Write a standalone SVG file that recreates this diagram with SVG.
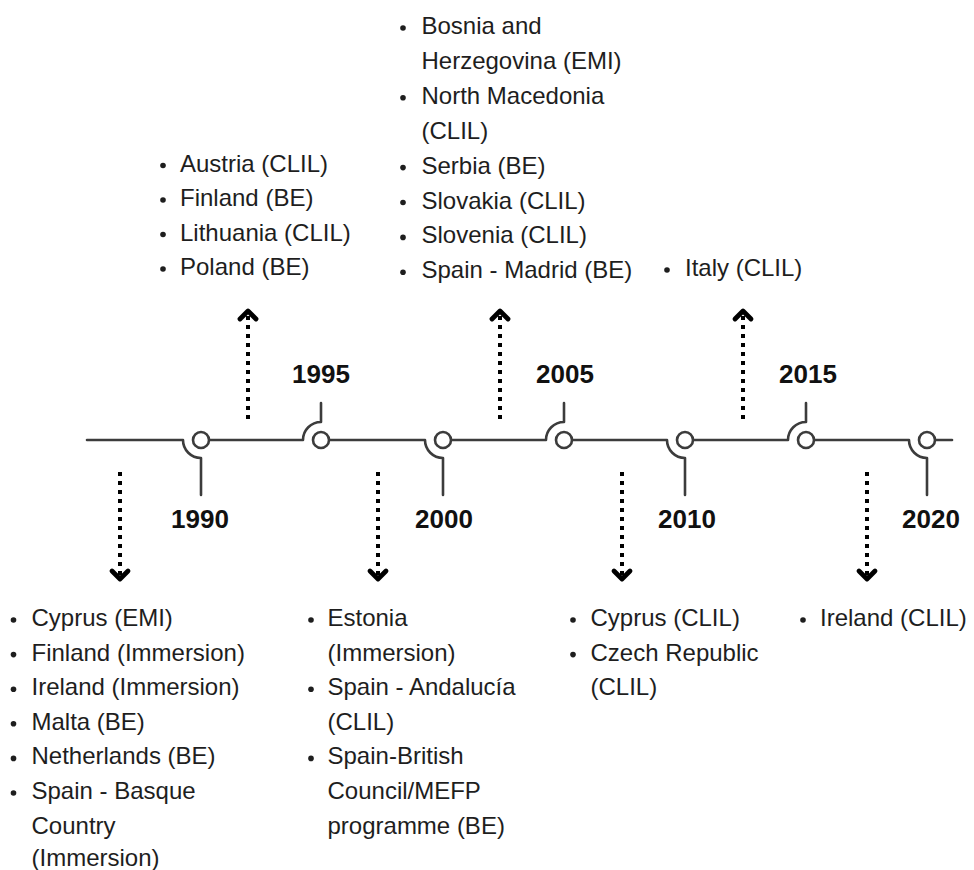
<svg xmlns="http://www.w3.org/2000/svg" width="974" height="870" viewBox="0 0 974 870">
<defs>
<style>
.tl{fill:none;stroke:#3c3c3c;stroke-width:2.6;stroke-linecap:round;stroke-linejoin:round}
.node{fill:#fff;stroke:#3c3c3c;stroke-width:2.6}
.dot{fill:none;stroke:#000;stroke-width:4;stroke-dasharray:4 5}
.yr{font-family:"Liberation Sans",Arial,sans-serif;font-weight:bold;font-size:26px;fill:#111;text-anchor:middle}
.li{font-family:"Liberation Sans",Arial,sans-serif;font-size:24px;fill:#1e1e1e}
.bl{fill:#1e1e1e}
</style>
<marker id="chev" markerUnits="userSpaceOnUse" viewBox="-14 -14 28 28" markerWidth="28" markerHeight="28" refX="0" refY="0" orient="auto">
<path d="M -7 -8 L 1 0 L -7 8" fill="none" stroke="#000" stroke-width="4.8" stroke-linecap="round" stroke-linejoin="round"/>
</marker>
</defs>
<rect width="974" height="870" fill="#fff"/>
<g id="connectors">
<path class="tl" d="M87 440 H183 A18 18 0 0 0 201 458 V495"/>
<path class="tl" d="M209 440 H303 A18 18 0 0 1 321 422 V403"/>
<path class="tl" d="M329 440 H425 A18 18 0 0 0 443 458 V495"/>
<path class="tl" d="M451 440 H546 A18 18 0 0 1 564 422 V403"/>
<path class="tl" d="M572 440 H667 A18 18 0 0 0 685 458 V495"/>
<path class="tl" d="M693 440 H788 A18 18 0 0 1 806 422 V403"/>
<path class="tl" d="M814 440 H909 A18 18 0 0 0 927 458 V495"/>
<path class="tl" d="M935 440 H952"/>
<path class="dot" d="M120 472 V578" marker-end="url(#chev)"/>
<path class="dot" d="M378 472 V578" marker-end="url(#chev)"/>
<path class="dot" d="M622 472 V578" marker-end="url(#chev)"/>
<path class="dot" d="M867 472 V578" marker-end="url(#chev)"/>
<path class="dot" d="M248 419 V312" marker-end="url(#chev)"/>
<path class="dot" d="M500 419 V312" marker-end="url(#chev)"/>
<path class="dot" d="M743 419 V312" marker-end="url(#chev)"/>
</g>
<g id="n1990">
<circle class="node" cx="201" cy="440" r="8"/>
<text class="yr" x="200" y="528">1990</text>
<circle class="bl" cx="13.5" cy="620" r="2.8"/>
<circle class="bl" cx="13.5" cy="654.6" r="2.8"/>
<circle class="bl" cx="13.5" cy="689.2" r="2.8"/>
<circle class="bl" cx="13.5" cy="723.8" r="2.8"/>
<circle class="bl" cx="13.5" cy="758.4" r="2.8"/>
<circle class="bl" cx="13.5" cy="793" r="2.8"/>
<text class="li" x="31.5" y="626">Cyprus (EMI)</text>
<text class="li" x="31.5" y="660.6">Finland (Immersion)</text>
<text class="li" x="31.5" y="695.2">Ireland (Immersion)</text>
<text class="li" x="31.5" y="729.8">Malta (BE)</text>
<text class="li" x="31.5" y="764.4">Netherlands (BE)</text>
<text class="li" x="31.5" y="799">Spain - Basque</text>
<text class="li" x="31.5" y="833.6">Country</text>
<text class="li" x="31.5" y="866">(Immersion)</text>
</g>
<g id="n1995">
<circle class="node" cx="321" cy="440" r="8"/>
<text class="yr" x="321" y="383">1995</text>
<circle class="bl" cx="163" cy="165.5" r="2.8"/>
<circle class="bl" cx="163" cy="200" r="2.8"/>
<circle class="bl" cx="163" cy="234.5" r="2.8"/>
<circle class="bl" cx="163" cy="269" r="2.8"/>
<text class="li" x="180" y="171.5">Austria (CLIL)</text>
<text class="li" x="180" y="206">Finland (BE)</text>
<text class="li" x="180" y="240.5">Lithuania (CLIL)</text>
<text class="li" x="180" y="275">Poland (BE)</text>
</g>
<g id="n2000">
<circle class="node" cx="443" cy="440" r="8"/>
<text class="yr" x="444" y="528">2000</text>
<circle class="bl" cx="311" cy="620" r="2.8"/>
<circle class="bl" cx="311" cy="689.2" r="2.8"/>
<circle class="bl" cx="311" cy="758.4" r="2.8"/>
<text class="li" x="327.5" y="626">Estonia</text>
<text class="li" x="327.5" y="660.6">(Immersion)</text>
<text class="li" x="327.5" y="695.2">Spain - Andalucía</text>
<text class="li" x="327.5" y="729.8">(CLIL)</text>
<text class="li" x="327.5" y="764.4">Spain-British</text>
<text class="li" x="327.5" y="799">Council/MEFP</text>
<text class="li" x="327.5" y="833.6">programme (BE)</text>
</g>
<g id="n2005">
<circle class="node" cx="564" cy="440" r="8"/>
<text class="yr" x="565" y="383">2005</text>
<circle class="bl" cx="403" cy="28" r="2.8"/>
<circle class="bl" cx="403" cy="97.8" r="2.8"/>
<circle class="bl" cx="403" cy="167.6" r="2.8"/>
<circle class="bl" cx="403" cy="202.5" r="2.8"/>
<circle class="bl" cx="403" cy="237.4" r="2.8"/>
<circle class="bl" cx="403" cy="272.3" r="2.8"/>
<text class="li" x="421.5" y="34">Bosnia and</text>
<text class="li" x="421.5" y="68.9">Herzegovina (EMI)</text>
<text class="li" x="421.5" y="103.8">North Macedonia</text>
<text class="li" x="421.5" y="138.7">(CLIL)</text>
<text class="li" x="421.5" y="173.6">Serbia (BE)</text>
<text class="li" x="421.5" y="208.5">Slovakia (CLIL)</text>
<text class="li" x="421.5" y="243.4">Slovenia (CLIL)</text>
<text class="li" x="421.5" y="278.3">Spain - Madrid (BE)</text>
</g>
<g id="n2010">
<circle class="node" cx="685" cy="440" r="8"/>
<text class="yr" x="687" y="528">2010</text>
<circle class="bl" cx="573" cy="620" r="2.8"/>
<circle class="bl" cx="573" cy="654.6" r="2.8"/>
<text class="li" x="590.5" y="626">Cyprus (CLIL)</text>
<text class="li" x="590.5" y="660.6">Czech Republic</text>
<text class="li" x="590.5" y="695.2">(CLIL)</text>
</g>
<g id="n2015">
<circle class="node" cx="806" cy="440" r="8"/>
<text class="yr" x="808" y="383">2015</text>
<circle class="bl" cx="667" cy="270" r="2.8"/>
<text class="li" x="685" y="276">Italy (CLIL)</text>
</g>
<g id="n2020">
<circle class="node" cx="927" cy="440" r="8"/>
<text class="yr" x="931" y="528">2020</text>
<circle class="bl" cx="803" cy="620" r="2.8"/>
<text class="li" x="820" y="626">Ireland (CLIL)</text>
</g>
</svg>
